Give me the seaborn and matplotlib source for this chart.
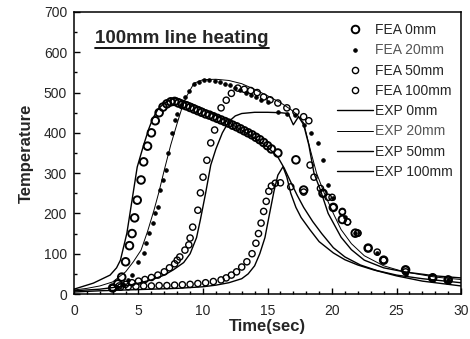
import matplotlib
matplotlib.use("Agg")
import matplotlib.pyplot as plt
from matplotlib.lines import Line2D
from matplotlib.ticker import MultipleLocator
import seaborn as sns
import pandas as pd

# ---------------- data ----------------
exp0_t = [0, 1.5, 2.8, 3.3, 3.6, 4.1, 4.5, 4.9, 5.4, 5.8, 6.1, 6.5, 7.0, 7.6, 8.0, 9, 10, 11, 12, 13, 14, 15,
          15.8, 16.3, 16.8, 17.3, 17.8, 18.5, 19.2, 20.1, 21, 22.2, 23.5, 25, 27, 30]
exp0_T = [12, 27, 47, 65, 84, 151, 233, 315, 370, 410, 435, 458, 474, 484, 486, 474, 460, 443, 425, 407, 387, 365,
          340, 312, 278, 245, 215, 180, 150, 115, 92, 72, 58, 47, 38, 28]

exp20_t = [0, 1, 2, 3, 4, 4.6, 5.2, 5.7, 6.2, 6.6, 7.0, 7.5, 8.0, 8.4, 8.7, 9.3, 10, 11, 12, 13, 14, 15, 16,
           16.8, 17.3, 17.8, 18.3, 18.8, 19.4, 20.1, 20.7, 21.5, 22.5, 24, 25.6, 28, 30]
exp20_T = [10, 14, 20, 30, 55, 80, 109, 155, 208, 255, 308, 370, 424, 465, 489, 523, 532, 533, 530, 522, 508, 492, 475,
           458, 445, 425, 360, 300, 250, 200, 160, 125, 95, 70, 55, 42, 36]

exp50_t = [0, 2, 4, 5, 6, 7, 7.7, 8.5, 9.0, 9.5, 9.8, 10.2, 10.6, 11.0, 11.5, 12.0, 12.5, 13.0, 14, 15, 16,
           16.6, 17.0, 17.4, 17.8, 18.2, 18.6, 19.1, 19.7, 20.7, 21.5, 22.5, 24, 25.6, 28, 30]
exp50_T = [8, 12, 20, 27, 35, 47, 60, 78, 100, 140, 185, 250, 320, 360, 400, 428, 442, 448, 451, 451, 450,
           448, 420, 440, 420, 370, 300, 258, 200, 141, 110, 84, 65, 55, 45, 40]

exp100_t = [0, 2, 4, 6, 8, 10, 11, 12, 13, 13.5, 14, 14.4, 14.8, 15.1, 15.5, 15.8, 16.2, 16.5, 16.8, 17.2,
            17.6, 18.3, 19, 20.1, 21, 22, 23.2, 25, 27, 30]
exp100_T = [5, 8, 10, 12, 14, 18, 22, 28, 38, 50, 70, 100, 140, 190, 255, 295, 316, 290, 250, 215,
            190, 159, 130, 102, 85, 72, 60, 45, 32, 20]

fea0_t = [3.0, 3.4, 3.7, 4.0, 4.3, 4.5, 4.7, 4.9, 5.2, 5.4, 5.7, 6.0, 6.3, 6.6, 6.9, 7.2, 7.5, 7.8, 8.1, 8.4,
          8.7, 9.0, 9.3, 9.6, 9.9, 10.2, 10.5, 10.8, 11.1, 11.4, 11.7, 12.0, 12.3, 12.6, 12.9, 13.2, 13.5,
          13.8, 14.1, 14.4, 14.7, 15.0, 15.3, 15.8, 17.2, 17.8, 19.3, 20.1, 20.8, 21.8, 22.8, 24.0, 25.7,
          27.8, 29.0]
fea0_T = [15, 25, 42, 80, 120, 150, 189, 233, 283, 328, 367, 400, 430, 450, 464, 472, 477, 478, 474, 470,
          467, 463, 459, 455, 451, 447, 444, 440, 436, 432, 428, 424, 419, 415, 410, 405, 400,
          395, 389, 383, 376, 368, 360, 350, 333, 258, 250, 215, 185, 151, 114, 84, 60,
          40, 35]

fea20_t = [3.3, 3.8, 4.2, 4.5, 5.0, 5.4, 5.6, 5.8, 6.1, 6.3, 6.5, 6.7, 6.9, 7.1, 7.3, 7.6, 7.8, 8.0, 8.3,
           8.6, 8.9, 9.3, 9.7, 10.1, 10.5, 10.9, 11.3, 11.7, 12.1, 12.5, 12.9, 13.3, 13.7, 14.1, 14.5,
           15.0, 15.8, 16.5, 17.1, 17.8, 18.4, 18.9, 19.3, 19.7, 20.1, 21.0, 21.8, 23.5, 25.7, 29.0]
fea20_T = [18, 25, 35, 47, 80, 102, 126, 151, 176, 201, 216, 258, 283, 308, 350, 400, 432, 448, 470,
           489, 505, 520, 527, 530, 530, 528, 526, 522, 518, 512, 506, 500, 494, 488, 482,
           476, 452, 448, 444, 420, 400, 375, 333, 270, 238, 190, 151, 102, 50, 35]

fea50_t = [3.0, 3.5, 4.0, 4.5, 5.0, 5.5, 6.0, 6.5, 7.0, 7.4, 7.8, 8.0, 8.2, 8.6, 8.9, 9.0, 9.2, 9.6, 9.8,
           10.0, 10.3, 10.6, 10.9, 11.4, 11.8, 12.2, 12.7, 13.2, 13.7, 14.2, 14.7, 15.2, 15.8, 16.5,
           17.2, 17.8, 18.2, 18.3, 18.6, 19.1, 19.7, 20.1, 20.8, 21.2, 22.0, 22.8, 24.0, 25.7, 27.8, 29.0]
fea50_T = [15, 20, 24, 28, 32, 36, 41, 47, 55, 65, 75, 84, 92, 109, 122, 139, 166, 208, 251,
           290, 332, 375, 407, 462, 481, 498, 511, 508, 505, 500, 489, 482, 474, 462,
           452, 440, 430, 320, 290, 262, 240, 215, 203, 179, 151, 114, 84, 55, 42, 36]

fea100_t = [3.0, 3.6, 4.2, 4.8, 5.4, 6.0, 6.6, 7.2, 7.8, 8.4, 9.0, 9.6, 10.2, 10.8, 11.4, 11.8, 12.2, 12.6,
            13.0, 13.4, 13.8, 14.1, 14.3, 14.5, 14.7, 14.9, 15.1, 15.3, 15.6, 16.0, 16.8, 17.8, 19.3,
            20.0, 20.8, 21.2, 22.0, 23.5, 24.0, 25.7, 27.8, 29.0]
fea100_T = [15, 17, 18, 19, 20, 20, 21, 21, 22, 23, 24, 26, 28, 31, 35, 40, 47, 55,
            67, 80, 100, 126, 150, 176, 205, 230, 255, 268, 275, 276, 266, 253, 250,
            240, 205, 179, 151, 104, 84, 60, 40, 35]

fea_labels = ["FEA 0mm", "FEA 20mm", "FEA 50mm", "FEA 100mm"]
exp_labels = ["EXP 0mm", "EXP 20mm", "EXP 50mm", "EXP 100mm"]
x_ticks = [0, 5, 10, 15, 20, 25, 30]
y_ticks = [0, 100, 200, 300, 400, 500, 600, 700]
title_text = "100mm line heating"
x_label = "Time(sec)"
y_label = "Temperature"

# ---------------- style ----------------
sns.set_style("ticks")
plt.rcParams["font.family"] = ["Liberation Sans", "DejaVu Sans"]

fig = plt.figure(figsize=(4.70, 3.39), dpi=100)
ax = fig.add_axes([0.1574, 0.1327, 0.8236, 0.832])

exp_series = [(exp0_t, exp0_T), (exp20_t, exp20_T), (exp50_t, exp50_T), (exp100_t, exp100_T)]
exp_lw = [1.0, 0.7, 1.0, 1.0]
for (t, T), lab, lw in zip(exp_series, exp_labels, exp_lw):
    df = pd.DataFrame({"t": t, "T": T})
    sns.lineplot(data=df, x="t", y="T", ax=ax, color="black", lw=lw,
                 estimator=None, sort=False, legend=False)

fea_series = [(fea0_t, fea0_T), (fea20_t, fea20_T), (fea50_t, fea50_T), (fea100_t, fea100_T)]
fea_size = [30, 6, 20, 20]
fea_face = ["none", "black", "none", "none"]
fea_ew = [1.4, 0.8, 1.0, 1.0]
for (t, T), lab, s, fc, ew in zip(fea_series, fea_labels, fea_size, fea_face, fea_ew):
    df = pd.DataFrame({"t": t, "T": T})
    sns.scatterplot(data=df, x="t", y="T", ax=ax, s=s, marker="o",
                    facecolor=fc, edgecolor="black", linewidth=ew, legend=False, zorder=3)

ax.set_xlim(0, 30)
ax.set_ylim(0, 700)
ax.set_xticks(x_ticks)
ax.set_yticks(y_ticks)
ax.xaxis.set_minor_locator(MultipleLocator(1))
ax.yaxis.set_minor_locator(MultipleLocator(50))
ax.tick_params(which="both", direction="in", color="black", width=1.0)
ax.tick_params(which="major", length=4.5, labelsize=10, pad=5)
ax.tick_params(axis="x", which="major", pad=7)
ax.tick_params(which="minor", length=2.5)
for sp in ax.spines.values():
    sp.set_visible(True)
    sp.set_color("black")
    sp.set_linewidth(1.1)

ax.set_xlabel(x_label, fontsize=12, fontweight="bold", labelpad=1)
ax.set_ylabel(y_label, fontsize=12, fontweight="bold", labelpad=7)

# legend
handles = []
for lab, s, fc, ew in zip(fea_labels, fea_size, fea_face, fea_ew):
    handles.append(Line2D([], [], ls="none", marker="o", markersize=s ** 0.5,
                          markerfacecolor=fc, markeredgecolor="black", markeredgewidth=ew, label=lab))
for lab, lw in zip(exp_labels, exp_lw):
    handles.append(Line2D([], [], color="black", lw=lw, label=lab))
leg = ax.legend(handles=handles, loc="upper right", frameon=False, fontsize=10,
                handlelength=2.6, handletextpad=0.15, labelspacing=0.45,
                borderaxespad=0.2, bbox_to_anchor=(1.0, 0.99))
for txt in leg.get_texts():
    if "20mm" in txt.get_text():
        txt.set_color("#555555")

# underlined title
ttl = ax.text(0.055, 0.905, title_text, transform=ax.transAxes, fontsize=13.5,
              fontweight="bold", ha="left", va="center")
fig.canvas.draw()
bb = ttl.get_window_extent().transformed(fig.transFigure.inverted())
fig.add_artist(Line2D([bb.x0, bb.x1], [bb.y0 - 0.002, bb.y0 - 0.002],
                      transform=fig.transFigure, color="black", lw=1.3))

fig.savefig("out.png", dpi=100)
